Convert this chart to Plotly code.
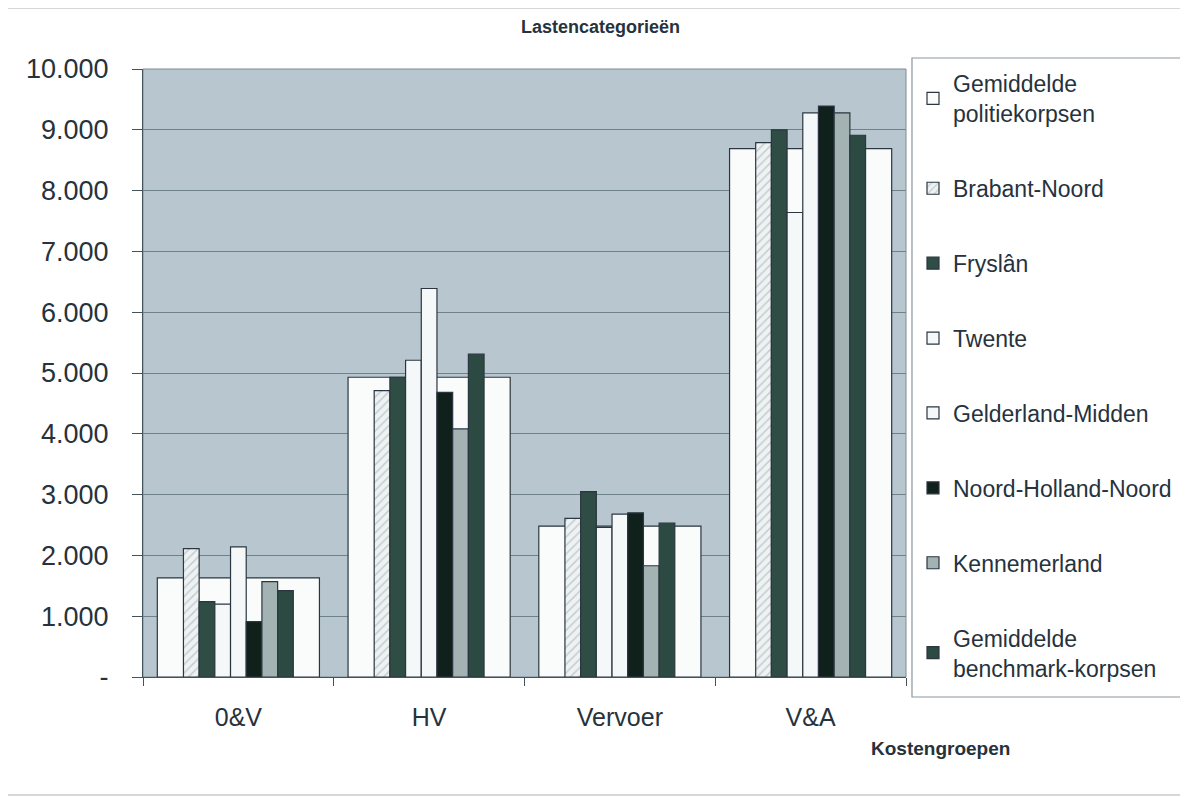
import plotly.graph_objects as go

categories = ["0&V", "HV", "Vervoer", "V&A"]

gem_politiekorpsen = [1630, 4930, 2480, 8690]
brabant_noord = [2110, 4710, 2610, 8790]
fryslan = [1240, 4930, 3050, 9000]
twente = [1200, 5210, 2460, 7640]
gelderland_midden = [2140, 6390, 2680, 9280]
noord_holland_noord = [910, 4680, 2700, 9390]
kennemerland = [1570, 4080, 1830, 9280]
gem_benchmark = [1420, 5310, 2530, 8910]

y_tickvals = [0, 1000, 2000, 3000, 4000, 5000, 6000, 7000, 8000, 9000, 10000]
y_ticktext = ["-", "1.000", "2.000", "3.000", "4.000", "5.000",
              "6.000", "7.000", "8.000", "9.000", "10.000"]

OFF = 8  # page body margin
W, H = 1188 - OFF, 797 - OFF
L, R, T, B = 143, 907, 69, 677
pw, ph = R - L, B - T


def px(x):
    return (x - L) / pw


def py(y):
    return (B - y) / ph


outline = dict(color="#2b3640", width=1.2)
FONT = "Liberation Sans, Arial, sans-serif"
TXT = "#26323c"

fig = go.Figure()

fig.add_trace(go.Bar(
    x=categories, y=gem_politiekorpsen, name="Gemiddelde<br>politiekorpsen",
    marker=dict(color="#fafcfc", line=outline), width=0.85,
    xaxis="x", yaxis="y", legendgroup="g1",
))

series = [
    ("Brabant-Noord", brabant_noord, dict(color="#e6ecee", line=outline,
                                          pattern=dict(shape="/", fgcolor="#97a6ad",
                                                       bgcolor="#eef2f3", size=6, solidity=0.25))),
    ("Fryslân", fryslan, dict(color="#2f4d44", line=outline)),
    ("Twente", twente, dict(color="#f4f8f9", line=outline)),
    ("Gelderland-Midden", gelderland_midden, dict(color="#f4f8f9", line=outline)),
    ("Noord-Holland-Noord", noord_holland_noord, dict(color="#10201b", line=outline)),
    ("Kennemerland", kennemerland, dict(color="#a3b3b3", line=outline)),
    ("Gemiddelde<br>benchmark-korpsen", gem_benchmark, dict(color="#2c4a42", line=outline)),
]
for i, (nm, vals, mk) in enumerate(series):
    fig.add_trace(go.Bar(x=categories, y=vals, name=nm, marker=mk,
                         xaxis="x2", yaxis="y", legendgroup="g%d" % (i + 2)))

fig.update_layout(
    width=W, height=H,
    margin=dict(l=L - OFF, r=1188 - R, t=T - OFF, b=797 - B, pad=0),
    paper_bgcolor="white",
    plot_bgcolor="#b8c7cf",
    barmode="group",
    bargap=0.424,
    bargroupgap=0,
    font=dict(family=FONT, color=TXT),
    showlegend=True,
    legend=dict(
        x=px(913), y=py(62), xanchor="left", yanchor="top",
        font=dict(size=23, family=FONT, color=TXT),
        bgcolor="rgba(0,0,0,0)", borderwidth=0,
        tracegroupgap=42, traceorder="grouped",
        maxheight=780,
        itemclick=False,
    ),
    xaxis=dict(
        type="category", range=[-0.5, 3.5],
        showline=True, linecolor="#44525c", linewidth=1.2,
        ticks="outside", ticklen=8, tickcolor="#44525c", tickson="boundaries",
        tickfont=dict(size=25, family=FONT, color=TXT),
        ticklabelstandoff=18,
        showgrid=False, mirror=False,
    ),
    xaxis2=dict(
        type="category", range=[-0.5, 3.5], overlaying="x",
        showticklabels=False, showgrid=False, showline=False, ticks="",
    ),
    yaxis=dict(
        range=[0, 10000], tickvals=y_tickvals, ticktext=y_ticktext,
        showline=True, linecolor="#44525c", linewidth=1.2,
        ticks="outside", ticklen=10, tickcolor="#44525c",
        tickfont=dict(size=27, family=FONT, color=TXT),
        ticklabelstandoff=18,
        showgrid=True, gridcolor="#6e8388", gridwidth=1,
        zeroline=False,
    ),
    shapes=[
        dict(type="rect", xref="paper", yref="paper", x0=0, x1=1, y0=0, y1=1,
             line=dict(color="#7c8c93", width=1), layer="below"),
        dict(type="rect", xref="paper", yref="paper",
             x0=px(913), x1=px(1183), y0=py(697), y1=py(58),
             line=dict(color="#8a969c", width=1.2)),
        dict(type="rect", xref="paper", yref="paper",
             x0=px(7), x1=px(1185), y0=py(795), y1=py(8),
             line=dict(color="#a9b2b6", width=1.2)),
    ],
    annotations=[
        dict(text="<b>Lastencategorieën</b>", xref="paper", yref="paper",
             x=px(601), y=py(27), showarrow=False, xanchor="center", yanchor="middle",
             font=dict(size=18, family=FONT, color=TXT)),
        dict(text="<b>Kostengroepen</b>", xref="paper", yref="paper",
             x=px(942), y=py(748), showarrow=False, xanchor="center", yanchor="middle",
             font=dict(size=19, family=FONT, color=TXT)),
    ],
)

fig.write_html("out.html")
